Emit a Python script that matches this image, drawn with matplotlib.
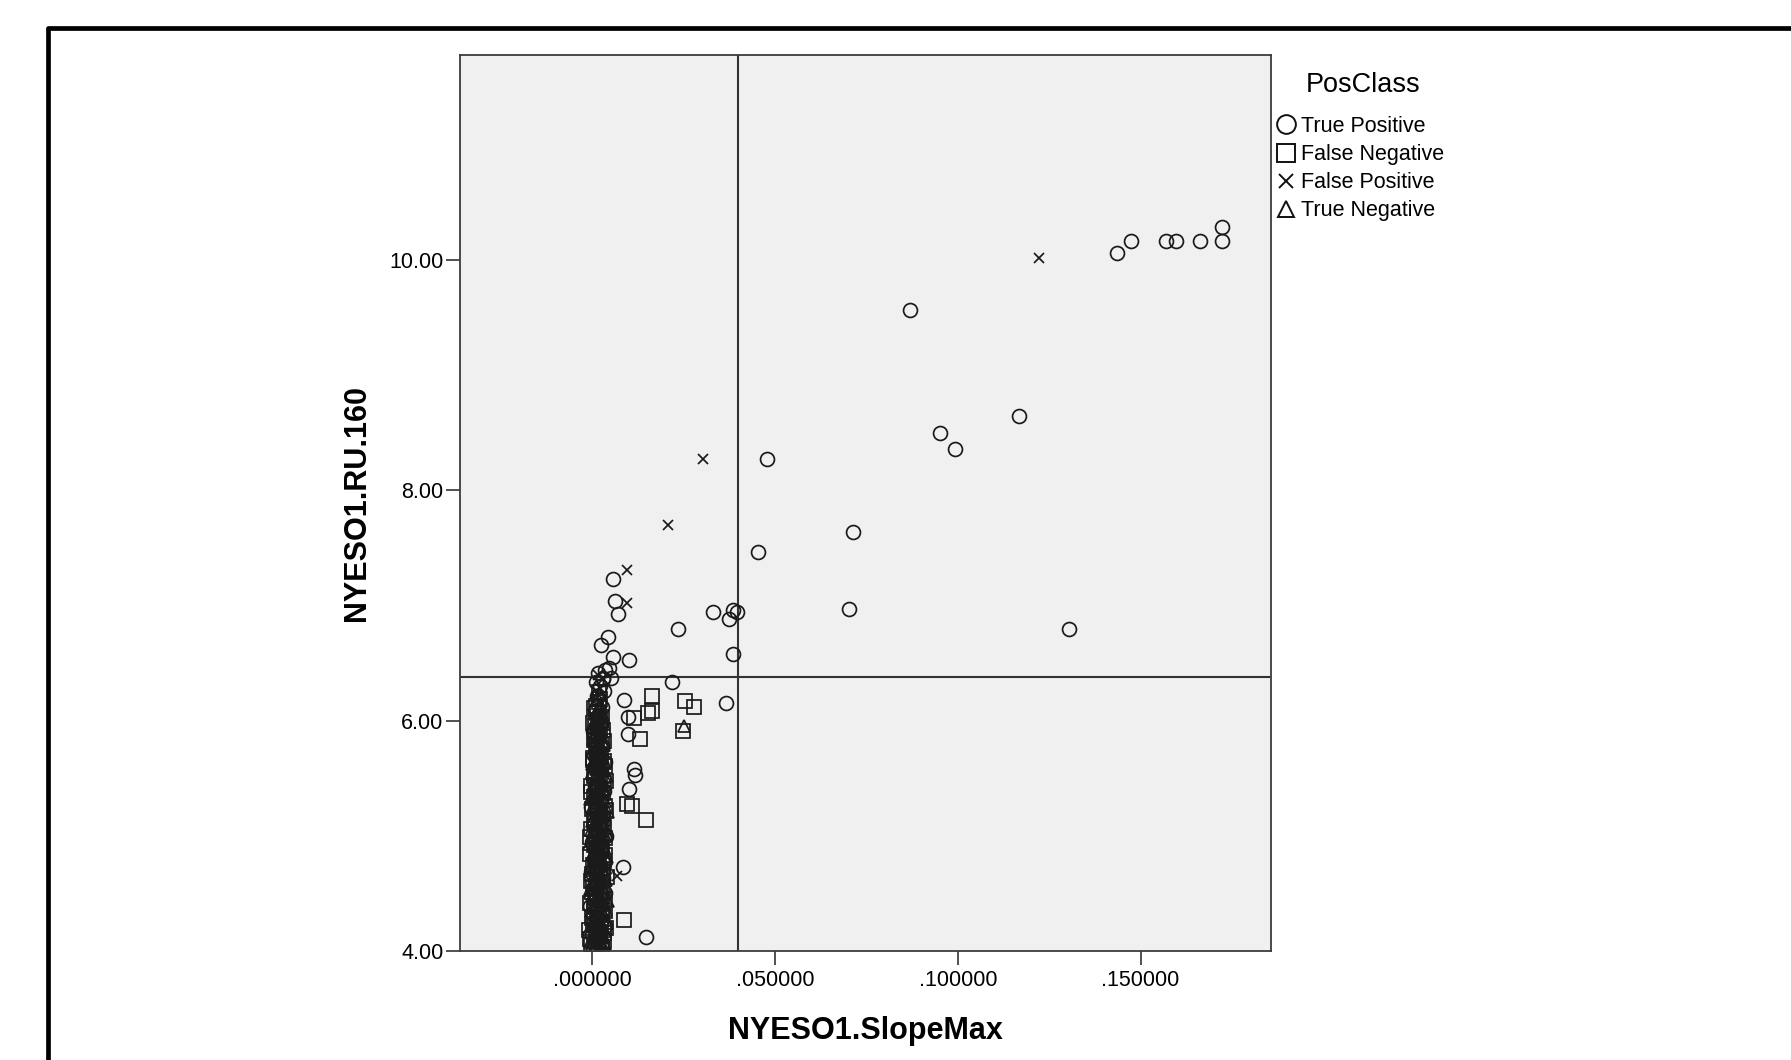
import matplotlib
matplotlib.use('Agg')
import matplotlib.pyplot as plt
from matplotlib.lines import Line2D
from matplotlib.ticker import FuncFormatter

plt.rcParams['font.family'] = ['Liberation Sans', 'DejaVu Sans']

# cut-off lines
x_cut = 0.0399
y_cut = 6.376

# True Positive (circles)
tp_pts = [
    (0.1722, 10.29), (0.1722, 10.166), (0.1663, 10.166), (0.1597, 10.166), (0.1570, 10.166),
    (0.1474, 10.166), (0.1437, 10.06), (0.0870, 9.57), (0.1168, 8.647), (0.0952, 8.494),
    (0.0993, 8.355), (0.0479, 8.27), (0.0714, 7.634), (0.0454, 7.466), (0.0703, 6.97),
    (0.1305, 6.80), (0.0329, 6.945), (0.0386, 6.96), (0.0395, 6.94), (0.0375, 6.88),
    (0.0386, 6.58), (0.0235, 6.80), (0.0217, 6.34), (0.0365, 6.155), (0.0056, 7.23),
    (0.0062, 7.04), (0.0071, 6.93), (0.0042, 6.73), (0.0023, 6.66), (0.0056, 6.55),
    (0.0101, 6.53), (0.0086, 6.18), (0.0099, 6.03), (0.0097, 5.88), (0.0114, 5.58),
    (0.0116, 5.53), (0.0101, 5.41), (0.0085, 4.73), (0.0147, 4.12), (0.0030, 6.36),
    (0.0050, 6.37), (0.0045, 6.46),
    # dense column
    (0.0008, 4.04), (0.0027, 4.07), (-0.0002, 4.14), (0.0018, 4.17), (0.0034, 4.22), (0.0004, 4.25),
    (0.0014, 4.28), (0.0030, 4.36), (-0.0007, 4.39), (0.0022, 4.41), (0.0009, 4.47), (0.0036, 4.50),
    (0.0003, 4.55), (0.0017, 4.61), (0.0028, 4.63), (-0.0003, 4.69), (0.0012, 4.72), (0.0033, 4.77),
    (0.0006, 4.80), (0.0024, 4.86), (0.0015, 4.91), (-0.0001, 4.95), (0.0037, 5.00), (0.0010, 5.03),
    (0.0020, 5.08), (0.0004, 5.11), (0.0029, 5.17), (0.0014, 5.22), (-0.0004, 5.25), (0.0025, 5.31),
    (0.0009, 5.36), (0.0032, 5.39), (0.0016, 5.45), (0.0001, 5.50), (0.0023, 5.56), (0.0011, 5.61),
    (0.0034, 5.64), (0.0006, 5.70), (0.0019, 5.74), (0.0027, 5.79), (0.0012, 5.86), (0.0002, 5.91),
    (0.0023, 5.97), (0.0015, 6.04), (0.0008, 6.08), (0.0026, 6.12), (0.0013, 6.21), (0.0032, 6.26),
    (0.0020, 6.30), (0.0010, 6.34), (0.0028, 6.37), (0.0016, 6.41), (0.0035, 6.44),
]

# False Negative (squares)
fn_pts = [
    (0.0164, 6.21), (0.0162, 6.08), (0.0153, 6.07), (0.0254, 6.17), (0.0279, 6.12),
    (0.0249, 5.91), (0.0131, 5.84), (0.0113, 6.02), (0.0018, 6.25), (0.0108, 5.26),
    (0.0095, 5.28), (0.0147, 5.14), (0.0087, 4.27),
    (0.0015, 4.02), (-0.0004, 4.05), (0.0031, 4.09), (0.0009, 4.12), (0.0022, 4.15), (-0.0008, 4.18),
    (0.0037, 4.20), (0.0012, 4.23), (0.0001, 4.26), (0.0027, 4.31), (0.0006, 4.34), (0.0019, 4.37),
    (-0.0005, 4.42), (0.0035, 4.45), (0.0010, 4.48), (0.0024, 4.53), (0.0002, 4.56), (0.0016, 4.59),
    (0.0039, 4.64), (-0.0002, 4.67), (0.0021, 4.70), (0.0007, 4.73), (0.0032, 4.78), (0.0013, 4.81),
    (-0.0006, 4.84), (0.0026, 4.87), (0.0004, 4.92), (0.0018, 4.95), (0.0036, 4.98), (0.0011, 5.01),
    (-0.0003, 5.06), (0.0023, 5.09), (0.0008, 5.12), (0.0030, 5.15), (0.0015, 5.20), (0.0000, 5.23),
    (0.0034, 5.26), (0.0019, 5.29), (0.0005, 5.34), (0.0028, 5.37), (0.0012, 5.40), (-0.0004, 5.43),
    (0.0037, 5.48), (0.0021, 5.51), (0.0007, 5.54), (0.0025, 5.57), (0.0013, 5.62), (0.0031, 5.65),
    (0.0002, 5.68), (0.0018, 5.71), (0.0010, 5.77), (0.0026, 5.80), (0.0004, 5.83), (0.0016, 5.89),
    (0.0029, 5.92), (0.0008, 5.95), (0.0021, 6.01), (0.0013, 6.07), (0.0005, 6.11), (0.0017, 6.16),
    (0.0026, 4.01), (0.0005, 4.03), (-0.0007, 4.10), (0.0018, 4.13), (0.0033, 4.16), (0.0012, 4.19),
    (0.0025, 4.24), (-0.0002, 4.29), (0.0013, 4.32), (0.0034, 4.35), (0.0004, 4.39), (0.0021, 4.44),
    (0.0008, 4.50), (0.0029, 4.55), (-0.0004, 4.61), (0.0014, 4.66), (0.0030, 4.69), (0.0003, 4.75),
    (0.0018, 4.79), (0.0035, 4.83), (0.0009, 4.89), (0.0025, 4.93), (-0.0005, 4.99), (0.0015, 5.04),
    (0.0033, 5.08), (0.0005, 5.14), (0.0020, 5.18), (0.0037, 5.22), (0.0010, 5.27), (0.0024, 5.33),
    (-0.0003, 5.38), (0.0016, 5.42), (0.0031, 5.46), (0.0006, 5.52), (0.0019, 5.59), (0.0035, 5.61),
    (0.0003, 5.66), (0.0023, 5.69), (0.0014, 5.75), (0.0031, 5.82), (0.0008, 5.87), (0.0022, 5.93),
    (0.0003, 5.98), (0.0026, 6.03), (0.0010, 6.13), (0.0022, 6.19),
]

# False Positive (x)
fp_pts = [
    (0.1221, 10.015), (0.0304, 8.27), (0.0206, 7.70), (0.0094, 7.31), (0.0094, 7.02),
    (0.0068, 4.65),
    (0.0011, 4.06), (0.0030, 4.11), (-0.0001, 4.20), (0.0020, 4.26), (0.0007, 4.33), (0.0035, 4.39),
    (0.0015, 4.46), (-0.0005, 4.52), (0.0026, 4.58), (0.0010, 4.64), (0.0040, 4.71), (0.0003, 4.77),
    (0.0022, 4.84), (0.0013, 4.90), (0.0032, 4.97), (-0.0003, 5.03), (0.0018, 5.10), (0.0007, 5.18),
    (0.0028, 5.24), (0.0014, 5.33), (0.0036, 5.40), (0.0003, 5.47), (0.0021, 5.53), (0.0009, 5.60),
    (0.0030, 5.67), (0.0016, 5.74), (0.0004, 5.82), (0.0025, 5.88), (0.0011, 5.94), (0.0019, 6.00),
    (-0.0002, 6.06), (0.0027, 6.15), (0.0012, 6.20), (0.0021, 6.28), (0.0030, 6.36), (0.0015, 6.40),
]

# True Negative (triangles)
tn_pts = [
    (0.0251, 5.95),
    (0.0002, 4.01), (0.0021, 4.03), (0.0036, 4.06), (-0.0006, 4.08), (0.0013, 4.11), (0.0029, 4.13),
    (0.0008, 4.16), (-0.0009, 4.19), (0.0024, 4.21), (0.0040, 4.24), (0.0005, 4.27), (0.0017, 4.29),
    (0.0032, 4.32), (-0.0003, 4.35), (0.0011, 4.38), (0.0026, 4.40), (0.0042, 4.43), (0.0001, 4.46),
    (0.0019, 4.49), (0.0034, 4.51), (-0.0007, 4.54), (0.0009, 4.57), (0.0023, 4.60), (0.0038, 4.62),
    (0.0004, 4.65), (0.0015, 4.68), (0.0030, 4.71), (-0.0004, 4.74), (0.0012, 4.76), (0.0027, 4.79),
    (0.0041, 4.82), (0.0003, 4.85), (0.0020, 4.88), (0.0033, 4.90), (-0.0008, 4.93), (0.0010, 4.96),
    (0.0025, 4.99), (0.0039, 5.02), (0.0006, 5.04), (0.0016, 5.07), (0.0031, 5.10), (-0.0002, 5.13),
    (0.0013, 5.16), (0.0028, 5.18), (0.0044, 5.21), (0.0000, 5.24), (0.0022, 5.27), (0.0036, 5.30),
    (-0.0005, 5.32), (0.0007, 5.35), (0.0018, 5.38), (0.0031, 5.41), (0.0002, 5.44), (0.0014, 5.46),
    (0.0026, 5.49), (0.0040, 5.52), (-0.0001, 5.55), (0.0011, 5.58), (0.0024, 5.60), (0.0035, 5.63),
    (0.0005, 5.66), (0.0017, 5.69), (0.0029, 5.72), (0.0008, 5.75), (0.0020, 5.78), (0.0033, 5.81),
    (0.0003, 5.84), (0.0015, 5.87), (0.0027, 5.90), (0.0010, 5.93), (0.0022, 5.96), (0.0006, 5.99),
    (0.0018, 6.02), (0.0030, 6.05), (0.0012, 6.09), (0.0024, 6.13), (0.0009, 6.18), (0.0019, 6.23),
    (0.0017, 4.00), (0.0031, 4.02), (-0.0003, 4.04), (0.0010, 4.07), (0.0025, 4.09), (0.0004, 4.12),
    (0.0020, 4.14), (0.0035, 4.17), (-0.0001, 4.22), (0.0014, 4.25), (0.0028, 4.28), (0.0007, 4.31),
    (0.0022, 4.34), (0.0037, 4.36), (0.0002, 4.40), (0.0016, 4.43), (0.0031, 4.47), (-0.0005, 4.50),
    (0.0012, 4.53), (0.0027, 4.56), (0.0006, 4.59), (0.0021, 4.63), (0.0034, 4.66), (-0.0002, 4.70),
    (0.0009, 4.73), (0.0024, 4.77), (0.0038, 4.80), (0.0001, 4.84), (0.0015, 4.87), (0.0030, 4.91),
    (0.0006, 4.94), (0.0022, 4.98), (0.0034, 5.01), (-0.0004, 5.05), (0.0011, 5.09), (0.0026, 5.12),
    (0.0003, 5.15), (0.0019, 5.19), (0.0033, 5.23), (0.0008, 5.26), (0.0023, 5.29), (-0.0002, 5.34),
    (0.0014, 5.37), (0.0029, 5.40), (0.0004, 5.43), (0.0020, 5.48), (0.0035, 5.51), (0.0009, 5.54),
    (0.0025, 5.58), (-0.0001, 5.62), (0.0013, 5.65), (0.0028, 5.68), (0.0005, 5.72), (0.0021, 5.76),
    (0.0032, 5.79), (0.0010, 5.83), (0.0025, 5.86), (0.0002, 5.90), (0.0017, 5.94), (0.0031, 5.97),
    (0.0007, 6.01), (0.0020, 6.04),
]

classes = ['True Positive', 'False Negative', 'False Positive', 'True Negative']
points = [tp_pts, fn_pts, fp_pts, tn_pts]
markers = ['o', 's', 'x', '^']
sizes = [10, 9.5, 6.5, 8]
leg_sizes = [13.5, 13.5, 9.5, 12]

x_ticks = [0.0, 0.05, 0.10, 0.15]
y_ticks = [4.0, 6.0, 8.0, 10.0]

W, H = 1791, 1060
fig = plt.figure(figsize=(W / 100, H / 100), dpi=100)
ax = fig.add_axes([460 / W, 109 / H, 811 / W, 896 / H])
ax.set_facecolor('#f0f0f0')

# outer frame (left and top only)
fig.add_artist(Line2D([47.5 / W, 47.5 / W, 1.0], [0, 1 - 27.5 / H, 1 - 27.5 / H],
                      transform=fig.transFigure, color='black', lw=3.4,
                      solid_joinstyle='round'))

for pts, m, s in zip(points, markers, sizes):
    xs = [p[0] for p in pts]
    ys = [p[1] for p in pts]
    ax.plot(xs, ys, linestyle='none', marker=m, ms=s, mfc='none',
            mec='#1a1a1a', mew=1.25)

ax.axvline(x_cut, color='#333333', lw=1.5, zorder=1)
ax.axhline(y_cut, color='#333333', lw=1.5, zorder=1)

ax.set_xlim(-0.0362, 0.1857)
ax.set_ylim(4.0, 11.78)
ax.set_xticks(x_ticks)
ax.set_yticks(y_ticks)
ax.xaxis.set_major_formatter(FuncFormatter(lambda v, p: f'{v:.6f}'.lstrip('0')))
ax.yaxis.set_major_formatter(FuncFormatter(lambda v, p: f'{v:.2f}'))
ax.tick_params(axis='x', length=10, width=1.2, color='#333333', labelsize=15.5, pad=4)
ax.tick_params(axis='y', length=10, width=1.2, color='#333333', labelsize=15.5, pad=2)
for sp in ax.spines.values():
    sp.set_color('#3c3c3c')
    sp.set_linewidth(1.3)

ax.set_xlabel('NYESO1.SlopeMax', fontsize=22, fontweight='bold', labelpad=18)
ax.set_ylabel('NYESO1.RU.160', fontsize=22, fontweight='bold', labelpad=12)

# legend: title as separate text, entries as legend
fig.text(1363 / W, 1 - 85.5 / H, 'PosClass', ha='center', va='center', fontsize=19.5)
handles = [Line2D([], [], linestyle='none', marker=m, ms=s, mfc='none', mec='#111111',
                  mew=1.4, label=c)
           for c, m, s in zip(classes, markers, leg_sizes)]
ax.legend(handles=handles, loc='upper left',
          bbox_to_anchor=(1277 / W, 1 - 116 / H), bbox_transform=fig.transFigure,
          frameon=False, fontsize=15.5, handlelength=0.8,
          handletextpad=0.3, labelspacing=0.33, borderpad=0, borderaxespad=0)

fig.savefig('out.png', dpi=100)
